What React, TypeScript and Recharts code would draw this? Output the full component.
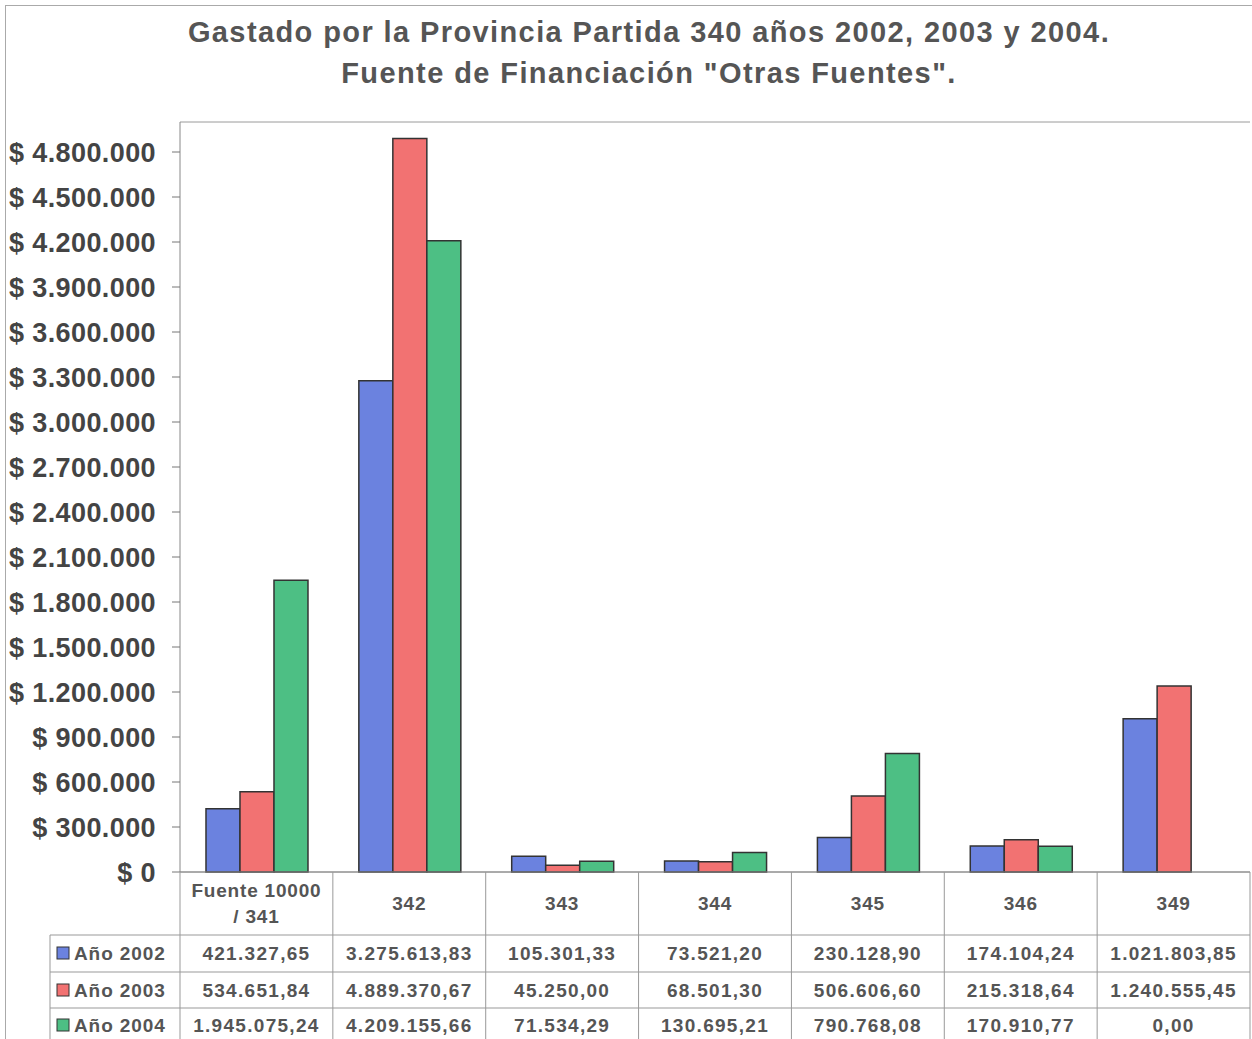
import React from "react";
import { BarChart, Bar, XAxis, YAxis, CartesianGrid } from "recharts";

const categories = ["Fuente 10000 / 341", "342", "343", "344", "345", "346", "349"];
const series2002 = [421327.65, 3275613.83, 105301.33, 73521.2, 230128.9, 174104.24, 1021803.85];
const series2003 = [534651.84, 4889370.67, 45250.0, 68501.3, 506606.6, 215318.64, 1240555.45];
const series2004 = [1945075.24, 4209155.66, 71534.29, 130695.21, 790768.08, 170910.77, 0.0];
const seriesNames = ["Año 2002", "Año 2003", "Año 2004"];
const seriesColors = ["#6b82df", "#f27272", "#4dbf84"];
const yTicks = [0, 300000, 600000, 900000, 1200000, 1500000, 1800000, 2100000, 2400000, 2700000, 3000000, 3300000, 3600000, 3900000, 4200000, 4500000, 4800000];

const W = 1252;
const H = 1039;
const PLOT_LEFT = 180;
const PLOT_RIGHT = 1250;
const PLOT_TOP = 122;
const PLOT_BOTTOM = 872;
const ROW_LINES = [935, 972, 1008];
const ROW_TEXT_Y = [953, 990, 1025];
const TABLE_LEFT = 50;
const FONT = "'Liberation Sans', Arial, sans-serif";

const data = categories.map((c, i) => ({
  name: c,
  y2002: series2002[i],
  y2003: series2003[i],
  y2004: series2004[i],
}));

const dotted = (n: number) => Math.round(n).toString().replace(/\B(?=(\d{3})+(?!\d))/g, ".");
const money = (n: number) => {
  const [int, dec] = n.toFixed(2).split(".");
  return dotted(Number(int)) + "," + dec;
};

function TableColumn(props: any) {
  const { x, payload } = props;
  const idx = payload.index;
  const band = (PLOT_RIGHT - PLOT_LEFT) / categories.length;
  const left = x - band / 2;
  const right = x + band / 2;
  const vals = [series2002[idx], series2003[idx], series2004[idx]];
  const label: string = payload.value;
  const lines = label.includes(" / ") ? [label.split(" / ")[0], "/ " + label.split(" / ")[1]] : [label];
  const txt = { fontFamily: FONT, fontWeight: 700, fontSize: 19, fill: "#555", letterSpacing: 1.3 };
  return (
    <g>
      <line x1={left} y1={PLOT_BOTTOM} x2={left} y2={H} stroke="#999" />
      {idx === categories.length - 1 && <line x1={right} y1={PLOT_BOTTOM} x2={right} y2={H} stroke="#999" />}
      {lines.map((l, k) => (
        <text key={k} x={x} y={lines.length === 1 ? 903 : 890 + k * 26} textAnchor="middle" dominantBaseline="central" {...txt} letterSpacing={0.8}>
          {l}
        </text>
      ))}
      {vals.map((v, k) => (
        <text key={k} x={x} y={ROW_TEXT_Y[k]} textAnchor="middle" dominantBaseline="central" {...txt}>
          {money(v)}
        </text>
      ))}
      {idx === 0 && (
        <g>
          {ROW_LINES.map((ly) => (
            <line key={ly} x1={TABLE_LEFT} y1={ly} x2={PLOT_RIGHT} y2={ly} stroke="#999" />
          ))}
          <line x1={TABLE_LEFT} y1={ROW_LINES[0]} x2={TABLE_LEFT} y2={H} stroke="#999" />
          {seriesNames.map((s, k) => (
            <g key={s}>
              <rect x={57} y={ROW_TEXT_Y[k] - 6} width={12} height={12} fill={seriesColors[k]} stroke="#333" strokeWidth={1} />
              <text x={74} y={ROW_TEXT_Y[k]} dominantBaseline="central" {...txt} letterSpacing={0.9}>
                {s}
              </text>
            </g>
          ))}
        </g>
      )}
    </g>
  );
}

export default function App() {
  return (
    <div style={{ position: "absolute", left: 0, top: 0, width: W, height: H, background: "#fff", fontFamily: FONT, overflow: "hidden" }}>
      <div style={{ position: "absolute", left: 5, top: 5, width: W, height: H, borderLeft: "1px solid #aaa", borderTop: "1px solid #aaa" }} />
      <div style={{ position: "absolute", left: 0, width: 1298, top: 12, textAlign: "center", fontWeight: 700, fontSize: 29, letterSpacing: 1.4, color: "#555", lineHeight: "41px" }}>
        Gastado por la Provincia Partida 340 años 2002, 2003 y 2004.
        <br />
        Fuente de Financiación "Otras Fuentes".
      </div>
      <div style={{ position: "absolute", left: 0, top: 0 }}>
        <BarChart
          width={W}
          height={H}
          data={data}
          margin={{ top: PLOT_TOP, right: W - PLOT_RIGHT, bottom: 0, left: 0 }}
          barCategoryGap="17%"
          barGap={0}
        >
          <CartesianGrid vertical={false} stroke="#9a9a9a" />
          <XAxis
            dataKey="name"
            xAxisId="b"
            height={H - PLOT_BOTTOM}
            interval={0}
            tickLine={false}
            axisLine={{ stroke: "#888" }}
            tick={<TableColumn />}
          />
          <XAxis xAxisId="t" orientation="top" dataKey="name" height={0} tick={false} tickLine={false} axisLine={{ stroke: "#999" }} />
          <YAxis
            yAxisId="l"
            width={PLOT_LEFT}
            domain={[0, 5000000]}
            ticks={yTicks}
            interval={0}
            tickSize={8}
            tickMargin={16}
            tickLine={{ stroke: "#777" }}
            axisLine={{ stroke: "#888" }}
            tickFormatter={(v: number) => "$ " + dotted(v)}
            tick={{ fontFamily: FONT, fontWeight: 700, fontSize: 27, fill: "#444", letterSpacing: 0.4 }}
          />
          <YAxis yAxisId="r" orientation="right" width={0} domain={[0, 5000000]} tick={false} tickLine={false} axisLine={{ stroke: "#999" }} />
          <Bar xAxisId="b" yAxisId="l" dataKey="y2002" name={seriesNames[0]} fill={seriesColors[0]} stroke="#333" strokeWidth={1.5} isAnimationActive={false} />
          <Bar xAxisId="b" yAxisId="l" dataKey="y2003" name={seriesNames[1]} fill={seriesColors[1]} stroke="#333" strokeWidth={1.5} isAnimationActive={false} />
          <Bar xAxisId="b" yAxisId="l" dataKey="y2004" name={seriesNames[2]} fill={seriesColors[2]} stroke="#333" strokeWidth={1.5} isAnimationActive={false} />
        </BarChart>
      </div>
    </div>
  );
}
